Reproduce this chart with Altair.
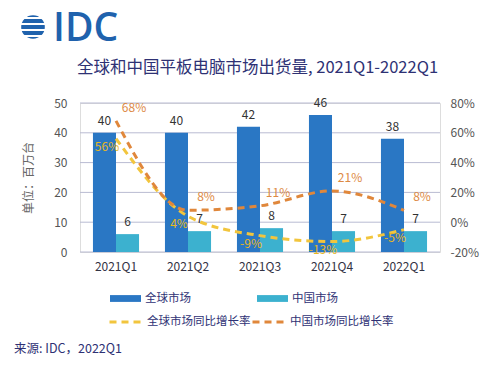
import altair as alt
import pandas as pd

quarters = ["2021Q1", "2021Q2", "2021Q3", "2021Q4", "2022Q1"]
global_units = [40, 40, 42, 46, 38]
china_units = [6, 7, 8, 7, 7]
global_yoy = [56, 4, -9, -13, -5]
china_yoy = [68, 8, 11, 21, 8]
left_ticks = [0, 10, 20, 30, 40, 50]
right_ticks = [-20, 0, 20, 40, 60, 80]
bar_series = ["全球市场", "中国市场"]
yoy_series = ["全球市场同比增长率", "中国市场同比增长率"]
title_text = "全球和中国平板电脑市场出货量, 2021Q1-2022Q1"
source_text = "来源: IDC，2022Q1"
unit_text = "单位：百万台"

BLUE = "#2a77c4"
TEAL = "#3cb1cf"
YELLOW = "#f2c53d"
ORANGE = "#e0873b"
NAVY = "#2e3174"
FONT = "Noto Sans CJK SC"

bars_df = pd.DataFrame({
    "quarter": quarters * 2,
    "series": [bar_series[0]] * len(quarters) + [bar_series[1]] * len(quarters),
    "units": global_units + china_units,
})
yoy_df = pd.DataFrame({
    "quarter": quarters * 2,
    "series": [yoy_series[0]] * len(quarters) + [yoy_series[1]] * len(quarters),
    "yoy": global_yoy + china_yoy,
    "label": [f"{v}%" for v in global_yoy + china_yoy],
})
grid_df = pd.DataFrame({"tick": left_ticks})

xscale = alt.Scale(domain=quarters, paddingInner=0.36, paddingOuter=0.18)
x_enc = alt.X("quarter:N", scale=xscale, sort=quarters,
              axis=alt.Axis(title=None, labelAngle=0, domain=False, ticks=False,
                            labelPadding=9, labelFontSize=12, labelColor="#333344",
                            labelFont=FONT))
xoff = alt.XOffset("series:N", sort=bar_series,
                   scale=alt.Scale(domain=bar_series, paddingInner=0, paddingOuter=0))

y_left = alt.Y("units:Q", scale=alt.Scale(domain=[0, 50]),
               axis=alt.Axis(title=unit_text, values=left_ticks,
                             domain=False, ticks=False, labelPadding=13,
                             labelOverlap=False, grid=False,
                             labelFontSize=12, labelColor="#555555",
                             titleFontSize=12, titleColor="#666666",
                             titleFontWeight="normal", titlePadding=18))

y_right = alt.Y("yoy:Q", scale=alt.Scale(domain=[-20, 80]),
                axis=alt.Axis(orient="right", title=None, values=right_ticks,
                              labelExpr="datum.value + '%'", domain=False, ticks=False,
                              grid=False, labelOverlap=False, labelPadding=10,
                              labelFontSize=12, labelColor="#555555"))

gridlines = alt.Chart(grid_df).mark_rule(color="#b9bbd2", strokeWidth=1, opacity=1).encode(
    y=alt.Y("tick:Q", scale=alt.Scale(domain=[0, 50]), axis=None),
    x=alt.value(0), x2=alt.value(360))

bars = alt.Chart(bars_df).mark_bar().encode(
    x=x_enc, xOffset=xoff, y=y_left,
    color=alt.Color("series:N", scale=alt.Scale(domain=bar_series, range=[BLUE, TEAL]),
                    legend=alt.Legend(title=None, orient="none", legendX=30, legendY=180,
                                      direction="horizontal", columns=2, columnPadding=66,
                                      symbolType="M-1,-0.22H1V0.22H-1Z", symbolSize=961,
                                      symbolStrokeWidth=0, labelFontSize=11.5,
                                      labelColor=NAVY, labelFont=FONT, labelOffset=4)),
)
bar_labels = alt.Chart(bars_df).mark_text(baseline="bottom", dy=-5, fontSize=12,
                                          color="#333333", font=FONT).encode(
    x=x_enc, xOffset=xoff, y=y_left, text="units:Q")

lines = alt.Chart(yoy_df).mark_line(strokeWidth=3, strokeDash=[7, 5],
                                    interpolate="monotone").encode(
    x=x_enc, y=y_right,
    stroke=alt.Stroke("series:N", scale=alt.Scale(domain=yoy_series, range=[YELLOW, ORANGE]),
                      legend=alt.Legend(title=None, orient="none", legendX=28, legendY=202,
                                        direction="horizontal", columns=2, columnPadding=-20,
                                        symbolType="stroke", symbolDash=[7, 5],
                                        symbolStrokeWidth=3, symbolSize=961,
                                        labelFontSize=11.5, labelColor=NAVY, labelFont=FONT,
                                        labelOffset=5)),
)
g_labels = alt.Chart(yoy_df).transform_filter(
    alt.datum.series == yoy_series[0]).mark_text(
    dx=-9, dy=8, fontSize=12, color="#e9b823", font=FONT).encode(
    x=x_enc, y=y_right, text="label:N")
c_labels = alt.Chart(yoy_df).transform_filter(
    alt.datum.series == yoy_series[1]).mark_text(
    dx=18, dy=-13, fontSize=12, color="#dd8a45", font=FONT).encode(
    x=x_enc, y=y_right, text="label:N")

title = alt.Chart(pd.DataFrame({"t": [title_text]})).mark_text(
    align="left", baseline="middle", fontSize=16.5, color=NAVY, font=FONT).encode(
    x=alt.value(-3), y=alt.value(-35), text="t:N")
source = alt.Chart(pd.DataFrame({"t": [source_text]})).mark_text(
    align="left", baseline="middle", fontSize=12.5, color=NAVY, font=FONT).encode(
    x=alt.value(-66), y=alt.value(246), text="t:N")
logo_text = alt.Chart(pd.DataFrame({"t": ["IDC"]})).mark_text(
    align="left", baseline="middle", fontSize=39, fontWeight=600, color="#1f62ad",
    font="Open Sans").encode(x=alt.value(-27), y=alt.value(-74), text="t:N")
logo_globe = alt.Chart(pd.DataFrame({"t": [0]})).mark_point(
    shape="circle", filled=True, size=560, color="#1f62ad", opacity=1, strokeWidth=0).encode(
    x=alt.value(-47), y=alt.value(-76))
stripe_df = pd.DataFrame({"yy": [-85, -79, -73, -67]})
logo_stripes = alt.Chart(stripe_df).mark_rule(color="white", strokeWidth=2).encode(
    x=alt.value(-64), x2=alt.value(-30), y=alt.Y("yy:Q", scale=None))

left = alt.layer(bars, bar_labels)
right = alt.layer(lines, g_labels, c_labels)
chart = alt.layer(gridlines, left, right, title, source, logo_globe, logo_stripes,
                  logo_text).resolve_scale(
    y="independent", color="independent", stroke="independent"
).properties(
    width=360, height=149,
    padding={"left": 72, "top": 95, "right": 51, "bottom": 108},
    autosize=alt.AutoSizeParams(type="none"),
    background="white",
).configure_view(stroke=None).configure(font=FONT)

chart.save("out.html", embed_options={"renderer": "svg", "actions": False})
